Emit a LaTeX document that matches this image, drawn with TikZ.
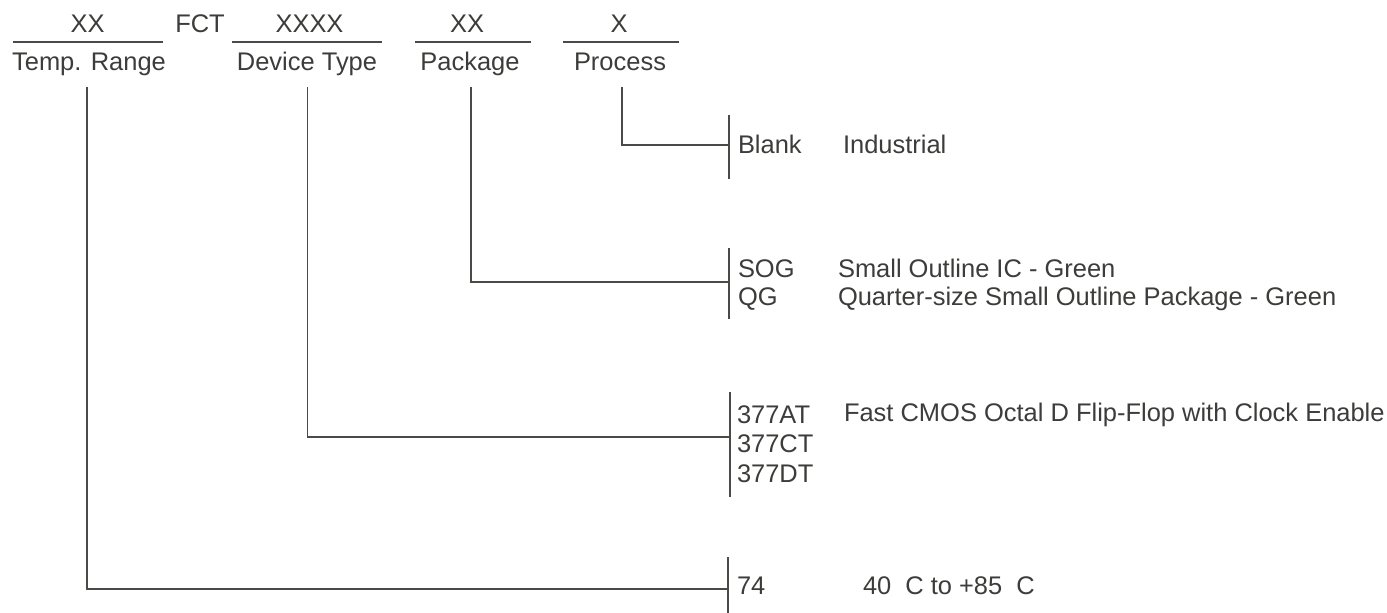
\documentclass[tikz,border=0pt]{standalone}
\usepackage{fontspec}
\setmainfont{Liberation Sans}
\definecolor{ink}{HTML}{3C3C3A}
\definecolor{wire}{HTML}{4A4A46}
\begin{document}
\begin{tikzpicture}[x=0.75pt,y=-0.75pt,
  every node/.style={inner sep=0pt,outer sep=0pt,text=ink,font=\fontsize{19.1pt}{23pt}\selectfont},
  hdr/.style={anchor=base},
  item/.style={anchor=base west},
  ln/.style={draw=wire,line width=1pt}]
\useasboundingbox (0,0) rectangle (1387,613);

% header fields
\node[hdr] (fxx)  at (87.5,33) {XX};
\node[hdr] (ffct) at (200,33) {FCT};
\node[hdr] (fdev) at (309.5,33) {XXXX};
\node[hdr] (fpkg) at (467,33) {XX};
\node[hdr] (fproc) at (619,33) {X};
\draw[ln] (13,42) -- (163,42);
\draw[ln] (232,42) -- (382,42);
\draw[ln] (415,42) -- (531,42);
\draw[ln] (563,42) -- (679,42);

\node[hdr] (ltemp) at (89,71) {Temp. Range};
\node[hdr] (ldev)  at (307,71) {Device Type};
\node[hdr] (lpkg)  at (470,71) {Package};
\node[hdr] (lproc) at (620,71) {Process};

% line tops under labels
\coordinate (ttemp) at (87,87);
\coordinate (tdev)  at (307.5,87);
\coordinate (tpkg)  at (471,87);
\coordinate (tproc) at (622,87);

% brackets
\coordinate (bproc) at (729,145);
\draw[ln] (729,115) -- (729,179);
\coordinate (bpkg) at (729,282);
\draw[ln] (729,248) -- (729,319);
\coordinate (bdev) at (730,437);
\draw[ln] (730,392) -- (730,497);
\coordinate (btemp) at (728,589);
\draw[ln] (728,557) -- (728,613);

% connectors
\draw[ln] (tproc) |- (bproc);
\draw[ln] (tpkg)  |- (bpkg);
\draw[ln] (tdev)  |- (bdev);
\draw[ln] (ttemp) |- (btemp);

% process
\node[item] (blank) at (738,153) {Blank};
\node[item] (ind)   at (843,153) {Industrial};
% package
\node[item] (sog) at (738,277) {SOG};
\node[item] (qg)  at (738,305) {QG};
\node[item] (sogd) at (838,277) {Small Outline IC - Green};
\node[item] (qgd)  at (838,305) {Quarter-size Small Outline Package - Green};
% device
\node[item] (d1) at (737,423) {377AT};
\node[item] (d2) at (737,452.5) {377CT};
\node[item] (d3) at (737,482) {377DT};
\node[item] (dd) at (844,421) {Fast CMOS Octal D Flip-Flop with Clock Enable};
% temp
\node[item] (t74) at (737,594) {74};
\node[item] (trng) at (863,594) {40\hspace{0.55em}C to +85\hspace{0.55em}C};
\end{tikzpicture}
\end{document}
